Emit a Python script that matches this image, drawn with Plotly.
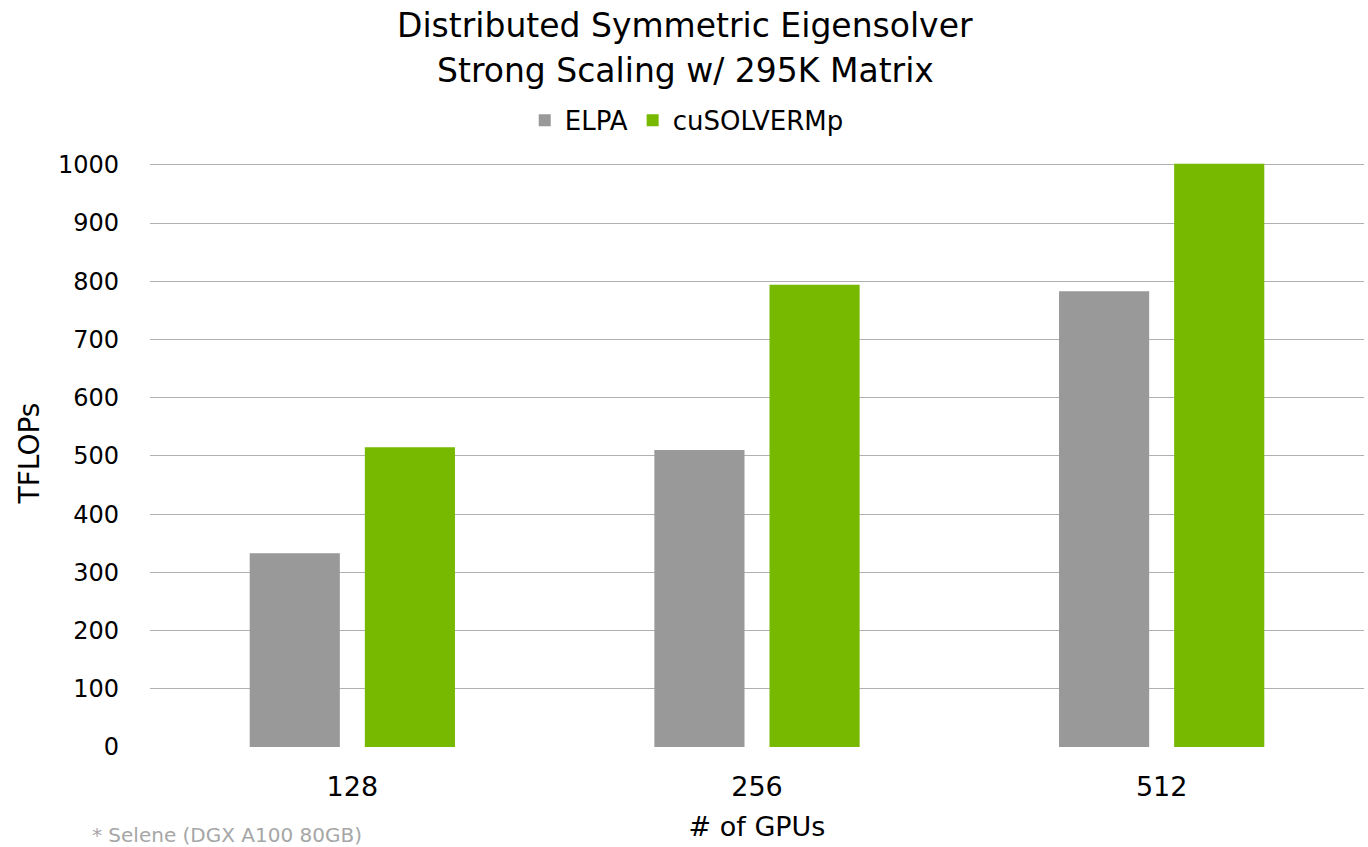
import plotly.graph_objects as go

# GPU counts on the x axis
gpus = ["128", "256", "512"]

# Throughput in TFLOPs for each solver
elpa = [333, 510, 783]
cusolvermp = [515, 794, 1002]

ytick_vals = [0, 100, 200, 300, 400, 500, 600, 700, 800, 900, 1000]

title_lines = ["Distributed Symmetric Eigensolver", "Strong Scaling w/ 295K Matrix"]
footnote = "* Selene (DGX A100 80GB)"

FONT = "DejaVu Sans"

fig = go.Figure()
fig.add_trace(go.Bar(name="ELPA", x=gpus, y=elpa, marker_color="#999999",
                     marker_line_width=0))
fig.add_trace(go.Bar(name="cuSOLVERMp", x=gpus, y=cusolvermp, marker_color="#76b900",
                     marker_line_width=0))

fig.update_layout(
    width=1368, height=847,
    paper_bgcolor="white", plot_bgcolor="white",
    margin=dict(l=150, r=4, t=159, b=100),
    barmode="group", bargap=0.431, bargroupgap=0.217,
    font=dict(family=FONT, color="#000000", size=22),
    legend=dict(
        orientation="h", xref="container", yref="container",
        x=0.502, xanchor="center", y=0.858, yanchor="middle",
        font=dict(family=FONT, size=26), itemwidth=30,
        bgcolor="rgba(0,0,0,0)",
    ),
    showlegend=True,
)

# two-line chart title
for text, ypos in zip(title_lines, [1.2278, 1.1512]):
    fig.add_annotation(
        text=text, showarrow=False, xref="paper", yref="paper",
        x=0.4407, y=ypos, xanchor="center", yanchor="middle",
        font=dict(family=FONT, size=33, color="#000000"),
    )

fig.update_yaxes(
    range=[0, 1010], tickvals=ytick_vals, showgrid=True,
    gridcolor="#b0b0b0", gridwidth=1, zeroline=False, showline=False,
    ticks="", ticklabelstandoff=30,
    tickfont=dict(family=FONT, size=24),
    title=dict(text="TFLOPs", font=dict(family=FONT, size=28), standoff=10),
)
fig.update_xaxes(
    showgrid=False, showline=False, ticks="", zeroline=False,
    tickfont=dict(family=FONT, size=27), ticklabelstandoff=21,
    title=dict(text="# of GPUs", font=dict(family=FONT, size=27), standoff=16),
)

fig.add_annotation(
    text=footnote, showarrow=False,
    xref="paper", yref="paper", x=-0.0494, y=-0.150,
    xanchor="left", yanchor="middle",
    font=dict(family=FONT, size=20, color="#a6a6a6"),
)

fig.write_html("out.html")
